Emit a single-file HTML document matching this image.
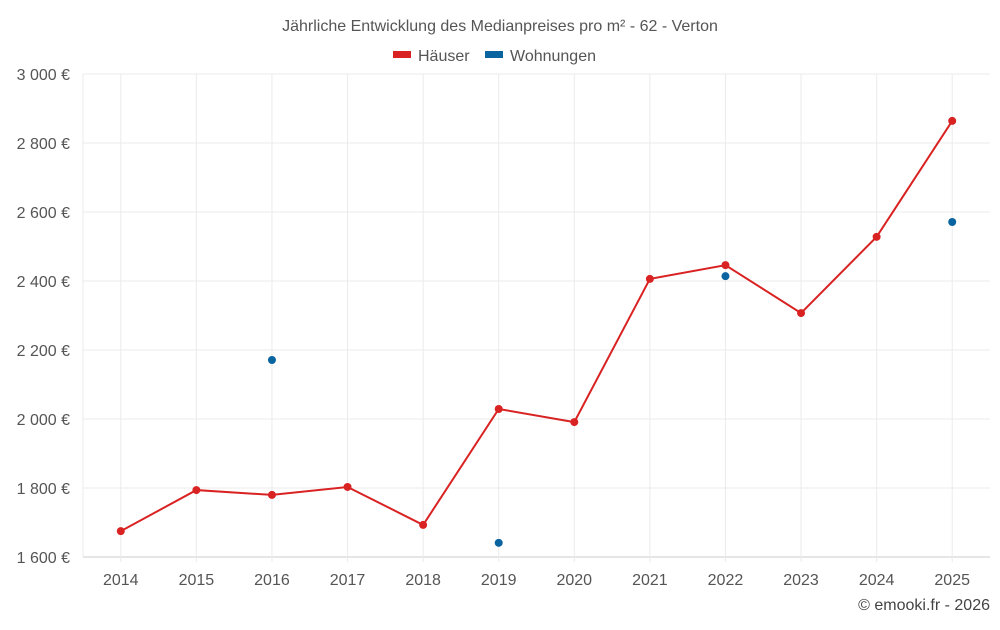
<!DOCTYPE html>
<html><head><meta charset="utf-8"><style>
body{margin:0;background:#fff;font-family:"Liberation Sans",sans-serif}
svg text{font-family:"Liberation Sans",sans-serif}
</style></head><body>
<svg id="chart" width="1000" height="625">
<text x="500" y="31" text-anchor="middle" font-size="16" fill="#555">Jährliche Entwicklung des Medianpreises pro m² - 62 - Verton</text>
<g>
<g><rect x="393" y="51" width="18" height="7" fill="#d92323"/><text x="418" y="61" font-size="16" fill="#555">Häuser</text></g>
<g><rect x="485" y="51" width="18" height="7" fill="#0a64a0"/><text x="510" y="61" font-size="16" fill="#555">Wohnungen</text></g>
</g>
<g id="grid"></g><g id="axes"></g><g id="marks"></g>
<text x="990" y="610" text-anchor="end" font-size="16" fill="#444">© emooki.fr - 2026</text>
</svg>
<script>
const years=[2014,2015,2016,2017,2018,2019,2020,2021,2022,2023,2024,2025];
const houses=[1675,1794,1780,1803,1693,2029,1991,2406,2446,2307,2528,2864];
const flats=[null,null,2171,null,null,1641,null,null,2414,null,null,2571];
const yTicks=[1600,1800,2000,2200,2400,2600,2800,3000];
const yTickLabels=["1 600 €","1 800 €","2 000 €","2 200 €","2 400 €","2 600 €","2 800 €","3 000 €"];
const NS="http://www.w3.org/2000/svg";
const L=83,R=990,T=74,B=557,yMin=1600,yMax=3000;
const band=(R-L)/years.length;
function xs(i){return L+band*(i+0.5);}
function ys(v){return B-(v-yMin)/(yMax-yMin)*(B-T);}
function mk(t,a,p){const e=document.createElementNS(NS,t);for(const k in a)e.setAttribute(k,a[k]);p.appendChild(e);return e;}
const grid=document.getElementById('grid'),axes=document.getElementById('axes'),marks=document.getElementById('marks');
yTicks.forEach((v,i)=>{
 const l=mk('line',{x1:L,x2:R,y1:ys(v),y2:ys(v),stroke:i==0?'#ccc':'#ebebeb'},grid);
 
 
 const t=mk('text',{x:70,y:ys(v)+6,'text-anchor':'end','font-size':16,fill:'#555'},axes);
 t.textContent=yTickLabels[i];
 
 
});
const el=mk('line',{x1:L,x2:L,y1:T,y2:B,stroke:'#ebebeb'},grid);


years.forEach((y,i)=>{
 const l=mk('line',{x1:xs(i),x2:xs(i),y1:T,y2:B+5,stroke:'#ebebeb'},grid);
 
 
 const t=mk('text',{x:xs(i),y:585,'text-anchor':'middle','font-size':16,fill:'#555'},axes);
 t.textContent=y;
 
 
});
const pl=mk('polyline',{points:houses.map((v,i)=>xs(i)+','+ys(v)).join(' '),fill:'none',stroke:'#d92323','stroke-width':2},marks);


houses.forEach((v,i)=>{
 const c=mk('circle',{cx:xs(i),cy:ys(v),r:4,fill:'#d92323'},marks);
 
 
});
flats.forEach((v,i)=>{
 if(v==null)return;
 const c=mk('circle',{cx:xs(i),cy:ys(v),r:4,fill:'#0a64a0'},marks);
 
 
});
</script>
</body></html>
